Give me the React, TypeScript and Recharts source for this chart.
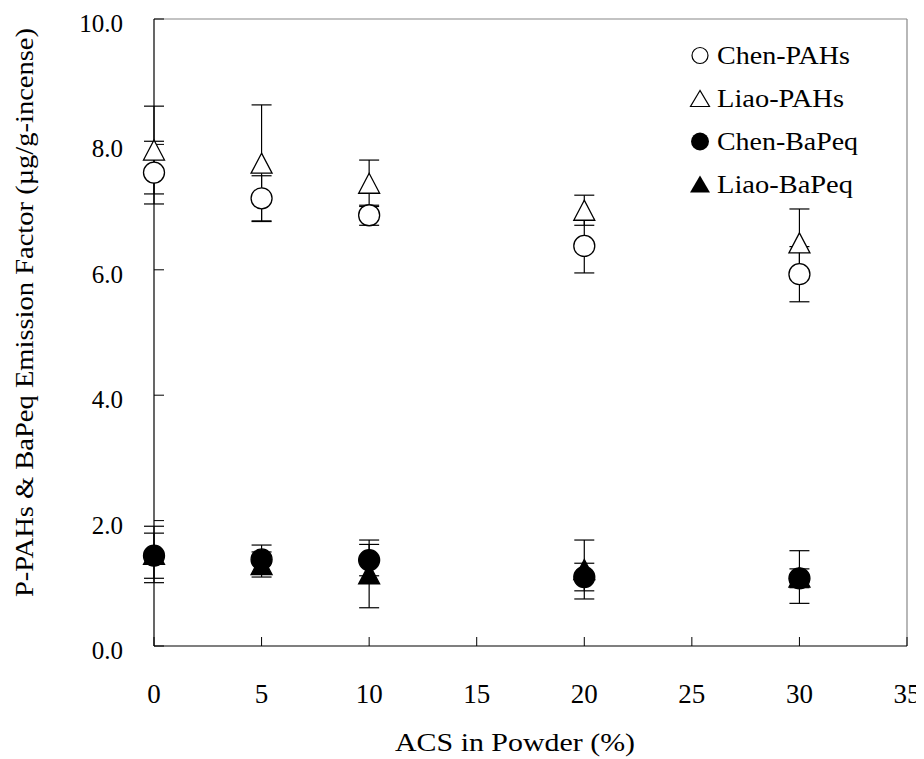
import React from 'react';
import { ScatterChart, Scatter, XAxis, YAxis, ErrorBar, ReferenceLine, Legend } from 'recharts';

const acs = [0, 5, 10, 20, 30];
const chenPAHs = [7.55, 7.14, 6.87, 6.38, 5.93];
const chenPAHsErr = [0.5, 0.36, 0.16, 0.43, 0.44];
const liaoPAHs = [7.91, 7.7, 7.38, 6.95, 6.43];
const liaoPAHsErr = [0.7, 0.93, 0.37, 0.24, 0.54];
const chenBaPeq = [1.44, 1.38, 1.37, 1.1, 1.08];
const chenBaPeqErr = [0.36, 0.23, 0.25, 0.22, 0.15];
const liaoBaPeq = [1.46, 1.3, 1.15, 1.22, 1.1];
const liaoBaPeqErr = [0.45, 0.2, 0.54, 0.47, 0.42];
const xTicks = [0, 5, 10, 15, 20, 25, 30, 35];
const yTicks = [0, 2, 4, 6, 8, 10];
const seriesNames = ['Chen-PAHs', 'Liao-PAHs', 'Chen-BaPeq', 'Liao-BaPeq'];
const xTitle = 'ACS in Powder (%)';
const yTitle = 'P-PAHs & BaPeq Emission Factor (µg/g-incense)';

const build = (vals: number[], errs: number[]) => acs.map((x, i) => ({ x, y: vals[i], err: errs[i] }));
const dChenPAHs = build(chenPAHs, chenPAHsErr);
const dLiaoPAHs = build(liaoPAHs, liaoPAHsErr);
const dChenBaPeq = build(chenBaPeq, chenBaPeqErr);
const dLiaoBaPeq = build(liaoBaPeq, liaoBaPeqErr);

const FONT = '"Liberation Serif", "Times New Roman", serif';

const circleShape = (filled: boolean) => (props: any) => {
  const { cx, cy } = props;
  if (cx == null || cy == null) return <g />;
  return <circle cx={cx} cy={cy} r={10.5} fill={filled ? '#000' : '#fff'} stroke="#000" strokeWidth={1.3} />;
};
const triShape = (filled: boolean) => (props: any) => {
  const { cx, cy } = props;
  if (cx == null || cy == null) return <g />;
  const pts = `${cx},${cy - 10} ${cx - 10.5},${cy + 10} ${cx + 10.5},${cy + 10}`;
  return <polygon points={pts} fill={filled ? '#000' : '#fff'} stroke="#000" strokeWidth={1.3} strokeLinejoin="miter" />;
};

const XTick = (props: any) => {
  const { x, y, payload } = props;
  return (
    <text x={x} y={y + 66} textAnchor="middle" fontFamily={FONT} fontSize={27} fill="#000">
      {payload.value}
    </text>
  );
};
const YTick = (props: any) => {
  const { x, y, payload } = props;
  return (
    <text x={x} y={y + 13} textAnchor="end" fontFamily={FONT} fontSize={25} fill="#000">
      {Number(payload.value).toFixed(1)}
    </text>
  );
};

const legendWidths = [133, 127, 141, 136];

const LegendContent = () => {
  const rows = [0, 1, 2, 3];
  return (
    <svg width={924} height={759} style={{ position: 'absolute', left: 0, top: 0, overflow: 'visible', pointerEvents: 'none' }}>
      {rows.map((i) => {
        const cy = 55.5 + i * 43;
        const mx = 700;
        let marker;
        if (i === 0) marker = <circle cx={mx} cy={cy} r={8} fill="#fff" stroke="#000" strokeWidth={1.2} />;
        else if (i === 1) marker = <polygon points={`${mx},${cy - 8} ${mx - 9.5},${cy + 8} ${mx + 9.5},${cy + 8}`} fill="#fff" stroke="#000" strokeWidth={1.2} />;
        else if (i === 2) marker = <circle cx={mx} cy={cy} r={9} fill="#000" />;
        else marker = <polygon points={`${mx},${cy - 9} ${mx - 10},${cy + 8} ${mx + 10},${cy + 8}`} fill="#000" />;
        return (
          <g key={i}>
            {marker}
            <text
              x={717}
              y={cy + 8.5}
              fontFamily={FONT}
              fontSize={25}
              fill="#000"
              textLength={legendWidths[i]}
              lengthAdjust="spacingAndGlyphs"
            >
              {seriesNames[i]}
            </text>
          </g>
        );
      })}
    </svg>
  );
};

const XLabel = () => (
  <text
    x={395}
    y={751}
    textAnchor="start"
    fontFamily={FONT}
    fontSize={26}
    fill="#000"
    textLength={240}
    lengthAdjust="spacingAndGlyphs"
  >
    {xTitle}
  </text>
);
const YLabel = () => (
  <text
    transform="translate(33,597) rotate(-90)"
    x={0}
    y={0}
    textAnchor="start"
    fontFamily={FONT}
    fontSize={26}
    fill="#000"
    textLength={569}
    lengthAdjust="spacingAndGlyphs"
  >
    {yTitle}
  </text>
);

export default function App() {
  return (
    <div style={{ position: 'relative', margin: '-8px 0 0 -8px', width: 924, height: 759, background: '#fff' }}>
      <ScatterChart width={924} height={759} margin={{ top: 19, right: 17, bottom: 0, left: 0 }}>
        <XAxis
          type="number"
          dataKey="x"
          domain={[0, 35]}
          ticks={xTicks}
          interval={0}
          height={113}
          tickSize={-9}
          tickMargin={0}
          axisLine={{ stroke: '#000', strokeWidth: 1.2 }}
          tickLine={{ stroke: '#000', strokeWidth: 1 }}
          tick={<XTick />}
          label={{ content: () => <XLabel /> }}
        />
        <YAxis
          type="number"
          dataKey="y"
          domain={[0, 10]}
          ticks={yTicks}
          interval={0}
          width={154}
          tickSize={-10}
          tickMargin={41}
          axisLine={{ stroke: '#000', strokeWidth: 1.2 }}
          tickLine={{ stroke: '#000', strokeWidth: 1 }}
          tick={<YTick />}
          label={{ content: () => <YLabel /> }}
        />
        <ReferenceLine y={10} stroke="#888" strokeWidth={1.2} />
        <ReferenceLine x={35} stroke="#888" strokeWidth={1.2} />
        <Scatter name={seriesNames[0]} data={dChenPAHs} shape={circleShape(false)} isAnimationActive={false}>
          <ErrorBar dataKey="err" direction="y" width={10} stroke="#000" strokeWidth={1.2} />
        </Scatter>
        <Scatter name={seriesNames[1]} data={dLiaoPAHs} shape={triShape(false)} isAnimationActive={false}>
          <ErrorBar dataKey="err" direction="y" width={10} stroke="#000" strokeWidth={1.2} />
        </Scatter>
        <Scatter name={seriesNames[2]} data={dChenBaPeq} shape={circleShape(true)} isAnimationActive={false}>
          <ErrorBar dataKey="err" direction="y" width={10} stroke="#000" strokeWidth={1.2} />
        </Scatter>
        <Scatter name={seriesNames[3]} data={dLiaoBaPeq} shape={triShape(true)} isAnimationActive={false}>
          <ErrorBar dataKey="err" direction="y" width={10} stroke="#000" strokeWidth={1.2} />
        </Scatter>
        <Legend
          content={() => <LegendContent />}
          wrapperStyle={{ position: 'absolute', left: 0, top: 0, width: 0, height: 0 }}
        />
      </ScatterChart>
    </div>
  );
}
